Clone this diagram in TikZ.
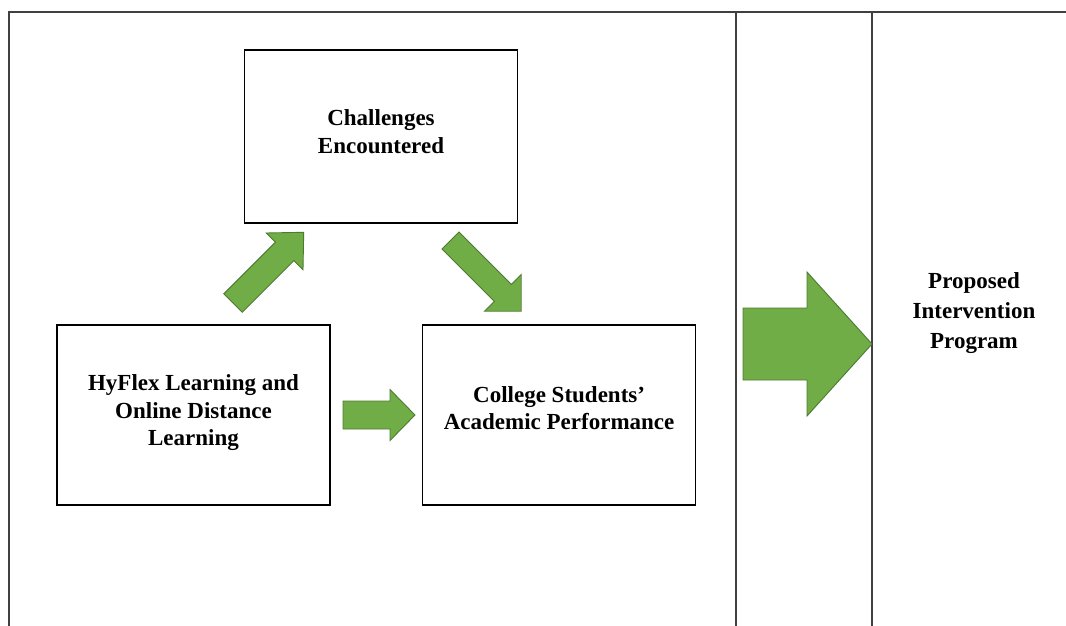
\documentclass[tikz,border=0pt]{standalone}
\usepackage{fontspec}
\setmainfont{Liberation Serif}
\usetikzlibrary{positioning}
\definecolor{arrowgreen}{RGB}{112,173,71}
\definecolor{arrowedge}{RGB}{78,122,48}
\tikzset{
  every node/.style={font=\fontsize{23}{27.5}\selectfont\bfseries},
  box/.style={draw=black, line width=1.6pt, align=center,
    minimum width=273pt, minimum height=180pt, inner sep=0pt},
  frame/.style={draw=black!75, line width=1.6pt},
  green arrow/.style={fill=arrowgreen, draw=arrowedge, line width=0.9pt,
    line join=miter}
}

\begin{document}
\begin{tikzpicture}[x=1pt, y=1pt]
  \useasboundingbox (0,0) rectangle (1066,-626);

  % page columns
  \draw[frame] (9,-626) -- (9,-12) -- (1066,-12);
  \draw[frame] (736,-12) -- (736,-626);
  \draw[frame] (872,-12) -- (872,-626);

  \node[box, minimum height=173pt] (challenges) at (381,-136.5)
    {Challenges\\Encountered\\[-18pt]};
  \node[box] (hyflex) at (193.5,-415)
    {HyFlex Learning and\\Online Distance\\Learning\\[-18pt]};
  \node[box, right=91pt of hyflex] (performance)
    {College Students'\\Academic Performance\\[-14pt]};
  \node[align=center, font=\fontsize{23}{30}\selectfont\bfseries] (proposed)
    at (974,-313) {Proposed\\Intervention\\Program};

  % block arrows: tail x/y, angle, length, shaft, head width, head length
  \foreach \x/\y/\a/\l/\s/\h/\k in {233/-303/45/100/26/52/27,
      450.5/-240.5/-45/100/24/52/26, 343/-415/0/72/28/51/25,
      743/-344/0/129/72/144/65} {
    \begin{scope}[shift={(\x,\y)}, rotate=\a]
      \filldraw[green arrow] (0,{-\s/2}) -- ({\l-\k},{-\s/2})
        -- ({\l-\k},{-\h/2}) -- (\l,0) -- ({\l-\k},{\h/2})
        -- ({\l-\k},{\s/2}) -- (0,{\s/2}) -- cycle;
    \end{scope}
  }
\end{tikzpicture}
\end{document}
